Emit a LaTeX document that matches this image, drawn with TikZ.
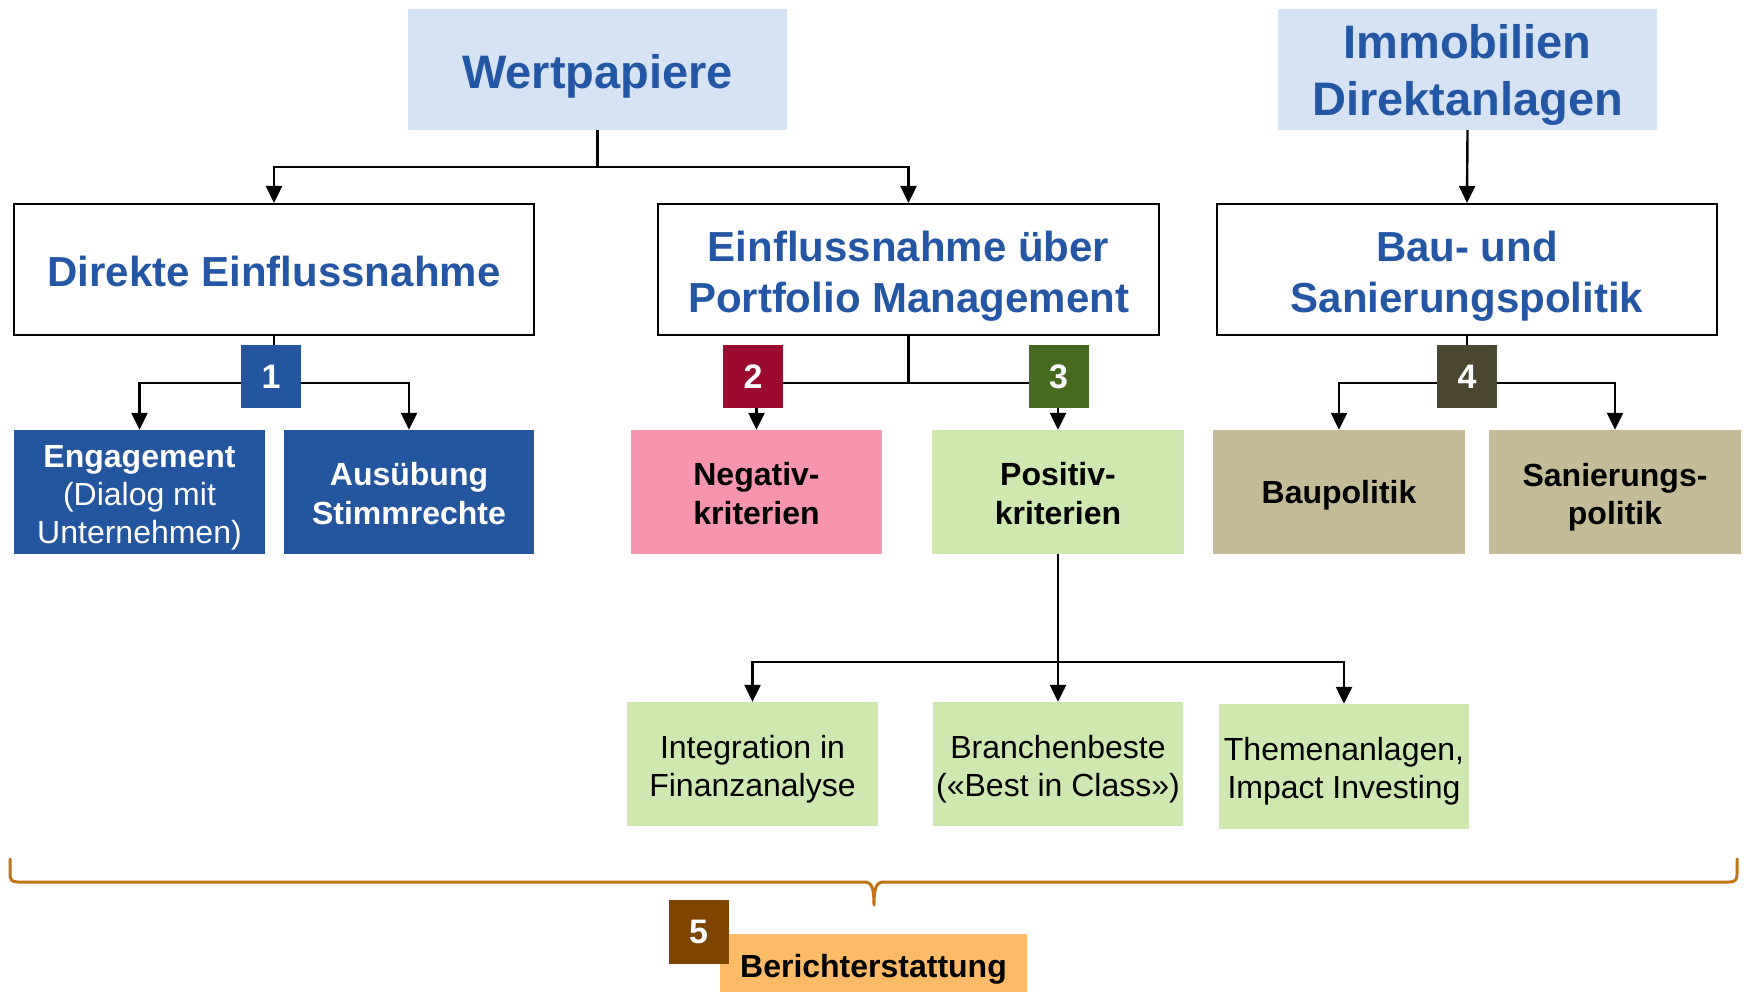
\documentclass[tikz,border=0pt]{standalone}
\usepackage{fontspec}
\setmainfont{Liberation Sans}
\usetikzlibrary{arrows.meta}
\definecolor{hdrfill}{HTML}{D6E3F5}
\definecolor{hdrtext}{HTML}{2357A5}
\definecolor{dblue}{HTML}{2456A0}
\definecolor{bdgred}{HTML}{9B0B2F}
\definecolor{pinkf}{HTML}{F795AE}
\definecolor{lgreen}{HTML}{CFE8B0}
\definecolor{bdggreen}{HTML}{466A1F}
\definecolor{bdgolive}{HTML}{4A4630}
\definecolor{khaki}{HTML}{C4BB97}
\definecolor{bdgbrown}{HTML}{7D4500}
\definecolor{orangef}{HTML}{FDBB68}
\definecolor{bracec}{HTML}{C47314}
\begin{document}
\begin{tikzpicture}[x=1pt,y=-1pt,
  hdr/.style={fill=hdrfill, inner sep=0, minimum width=379, minimum height=121},
  hdrT/.style={text=hdrtext, font=\bfseries\fontsize{47}{57}\selectfont, align=center, inner sep=0},
  obox/.style={draw=black, line width=2pt, fill=white, inner sep=0, minimum height=131},
  oboxT/.style={text=hdrtext, font=\bfseries\fontsize{42}{51}\selectfont, align=center, inner sep=0},
  sbox/.style={inner sep=0, minimum height=124},
  sboxT/.style={align=center, inner sep=0, font=\bfseries\fontsize{32}{38.5}\selectfont},
  lbox/.style={fill=lgreen, inner sep=0, minimum width=250, minimum height=124},
  lboxT/.style={align=center, inner sep=0, font=\fontsize{32}{38}\selectfont},
  badge/.style={inner sep=0, minimum width=60, minimum height=63, text=white, font=\bfseries\fontsize{34}{40}\selectfont},
  ln/.style={line width=2.4pt},
  arr/.style={line width=2.4pt, -{Triangle[length=17pt,width=16pt]}},
  brc/.style={draw=bracec, line width=3pt, line cap=round, line join=round}
]
\useasboundingbox (0,0) rectangle (1744,992);
\fill[white] (0,0) rectangle (1744,992);

% headers
\node[hdr, label={[hdrT, yshift=-7pt]center:Wertpapiere}] (wp) at (597.5,69.5) {};
\node[hdr, label={[hdrT, yshift=-5.5pt]center:Immobilien\\Direktanlagen}] (im) at (1467.5,69.5) {};

% second level
\node[obox, minimum width=520, label={[oboxT, yshift=-1.5pt]center:Direkte Einflussnahme}] (de) at (274,269.5) {};
\node[obox, minimum width=501, label={[oboxT, yshift=-6.5pt]center:Einflussnahme über\\Portfolio Management}] (pm) at (908.5,269.5) {};
\node[obox, minimum width=500, label={[oboxT, yshift=-6.5pt]center:Bau- und\\Sanierungspolitik}] (bu) at (1467,269.5) {};

% third level
\node[sbox, fill=dblue, minimum width=251, label={[lboxT, text=white, yshift=-5.5pt]center:\textbf{Engagement}\\(Dialog mit\\Unternehmen)}] (eng) at (139.5,492) {};
\node[sbox, fill=dblue, minimum width=250, label={[sboxT, text=white, yshift=-1.5pt]center:Ausübung\\Stimmrechte}] (aus) at (409,492) {};
\node[sbox, fill=pinkf, minimum width=251, label={[sboxT, yshift=-1.5pt]center:Negativ-\\kriterien}] (neg) at (756.5,492) {};
\node[sbox, fill=lgreen, minimum width=252, label={[sboxT, yshift=-1.5pt]center:Positiv-\\kriterien}] (pos) at (1058,492) {};
\node[sbox, fill=khaki, minimum width=252, label={[sboxT, yshift=-3pt]center:Baupolitik}] (bau) at (1339,492) {};
\node[sbox, fill=khaki, minimum width=252, label={[sboxT, yshift=-5pt]center:Sanierungs-\\politik}] (san) at (1615,492) {};

% fourth level
\node[lbox, minimum width=251, label={[lboxT, yshift=-5.5pt]center:Integration in\\Finanzanalyse}] (int) at (752.5,764) {};
\node[lbox, label={[lboxT, yshift=-5.5pt]center:Branchenbeste\\(«Best in Class»)}] (bra) at (1058,764) {};
\node[lbox, minimum height=125, label={[lboxT, yshift=-4.5pt]center:Themenanlagen,\\Impact Investing}] (thm) at (1344,766.5) {};

% junctions
\coordinate (j1) at (597.5,167);
\coordinate (k1) at (274,383);
\coordinate (k2) at (908.5,383);
\coordinate (k4) at (1467,383);
\coordinate (k5) at (1058,662);

% connectors
\draw[arr] (wp.south) -- (j1) -| (de.north);
\draw[arr] (j1) -| (pm.north);
\draw[arr] (im.south) -- (bu.north);
\draw[ln] (de.south) -- (k1);
\draw[arr] (k1) -| (eng.north);
\draw[arr] (k1) -| (aus.north);
\draw[ln] (pm.south) -- (k2);
\draw[arr] (k2) -| (neg.north);
\draw[arr] (k2) -| (pos.north);
\draw[ln] (bu.south) -- (k4);
\draw[arr] (k4) -| (bau.north);
\draw[arr] (k4) -| (san.north);
\draw[ln] (pos.south) -- (k5);
\draw[arr] (k5) -| (int.north);
\draw[arr] (pos.south) -- (bra.north);
\draw[arr] (k5) -| (thm.north);

% badges
\node[badge, fill=dblue] (b1) at (271,376.5) {1};
\node[badge, fill=bdgred] (b2) at (753,376.5) {2};
\node[badge, fill=bdggreen] (b3) at (1058.5,376.5) {3};
\node[badge, fill=bdgolive] (b4) at (1467,376.5) {4};

% brace
\draw[brc] (10,859) -- (10,874) .. controls (10,880) and (12,882) .. (18,882) -- (864,882) .. controls (871,882) and (874,886) .. (874,905) .. controls (874,886) and (877,882) .. (884,882) -- (1729,882) .. controls (1735,882) and (1737,880) .. (1737,874) -- (1737,859);

% reporting
\node[fill=orangef, inner sep=0, minimum width=307, minimum height=58, label={[sboxT, text=black, yshift=-6pt]center:Berichterstattung}] (ber) at (873.5,963) {};
\node[badge, fill=bdgbrown, minimum height=64] (b5) at (698.5,932) {5};
\end{tikzpicture}
\end{document}
